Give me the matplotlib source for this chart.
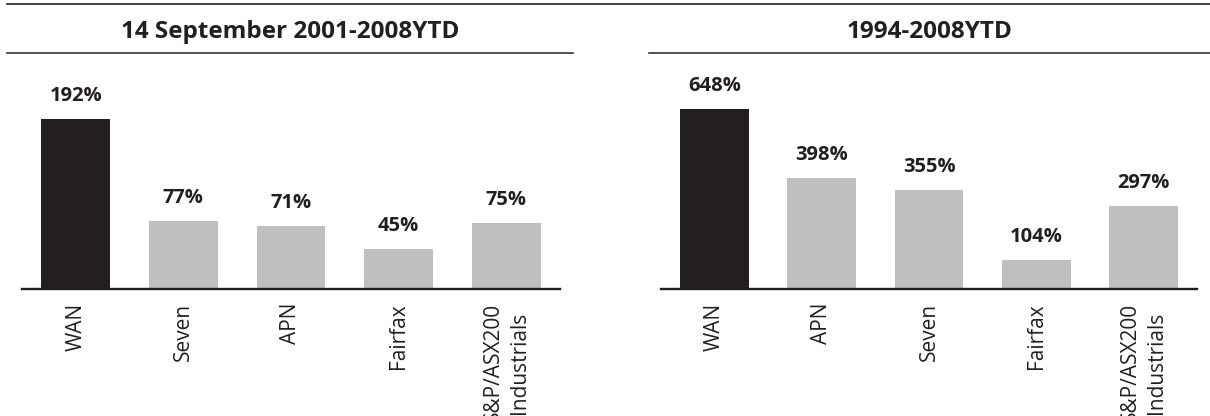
import matplotlib
matplotlib.use("Agg")
import matplotlib.pyplot as plt
from matplotlib.lines import Line2D

plt.rcParams['font.family'] = ['Open Sans', 'DejaVu Sans']

# data
left_title = "14 September 2001-2008YTD"
left_labels = ['WAN', 'Seven', 'APN', 'Fairfax', 'S&P/ASX200\nIndustrials']
left_values = [192, 77, 71, 45, 75]

right_title = "1994-2008YTD"
right_labels = ['WAN', 'APN', 'Seven', 'Fairfax', 'S&P/ASX200\nIndustrials']
right_values = [648, 398, 355, 104, 297]

ink = '#231f20'
grey = '#bfbfbf'
W, H = 1210, 416

fig = plt.figure(figsize=(W / 100, H / 100), dpi=100)


def px(x0, y0, x1, y1):
    # pixel box (top-left origin) -> figure fraction rect
    return [x0 / W, 1 - y1 / H, (x1 - x0) / W, (y1 - y0) / H]


def panel(rect, labels, values, ytop):
    ax = fig.add_axes(rect)
    colors = [ink] + [grey] * (len(values) - 1)
    xs = range(len(values))
    ax.bar(xs, values, width=0.64, color=colors, zorder=2)
    for x, v in zip(xs, values):
        ax.annotate(f"{v}%", (x, v), xytext=(0, 13), textcoords='offset points',
                    ha='center', va='baseline', fontsize=14.5, fontweight='bold',
                    color=ink)
    ax.set_xlim(-0.5, len(values) - 0.5)
    ax.set_ylim(0, ytop)
    ax.set_xticks(list(xs))
    ax.set_xticklabels(labels, rotation=90, va='top', ha='center',
                       multialignment='center', fontsize=15, color=ink,
                       linespacing=1.3)
    ax.tick_params(axis='x', length=0, pad=10)
    ax.set_yticks([])
    for s in ['top', 'left', 'right']:
        ax.spines[s].set_visible(False)
    ax.spines['bottom'].set_linewidth(1.7)
    ax.spines['bottom'].set_color(ink)
    ax.patch.set_alpha(0)
    return ax


panel(px(22, 60, 560, 289), left_labels, left_values, 259)
panel(px(661, 60, 1197, 289), right_labels, right_values, 824)

# titles and rules
fig.text(290 / W, 1 - 37.5 / H, left_title, ha='center', va='baseline',
         fontsize=17.5, fontweight='bold', color=ink)
fig.text(929.5 / W, 1 - 37.5 / H, right_title, ha='center', va='baseline',
         fontsize=17.5, fontweight='bold', color=ink)

fig.add_artist(Line2D([7 / W, 1], [1 - 3.5 / H] * 2, color=ink, lw=1.2))
fig.add_artist(Line2D([7 / W, 573 / W], [1 - 53 / H] * 2, color=ink, lw=1.1))
fig.add_artist(Line2D([649 / W, 1], [1 - 53 / H] * 2, color=ink, lw=1.1))

fig.savefig('out.png', dpi=100)
